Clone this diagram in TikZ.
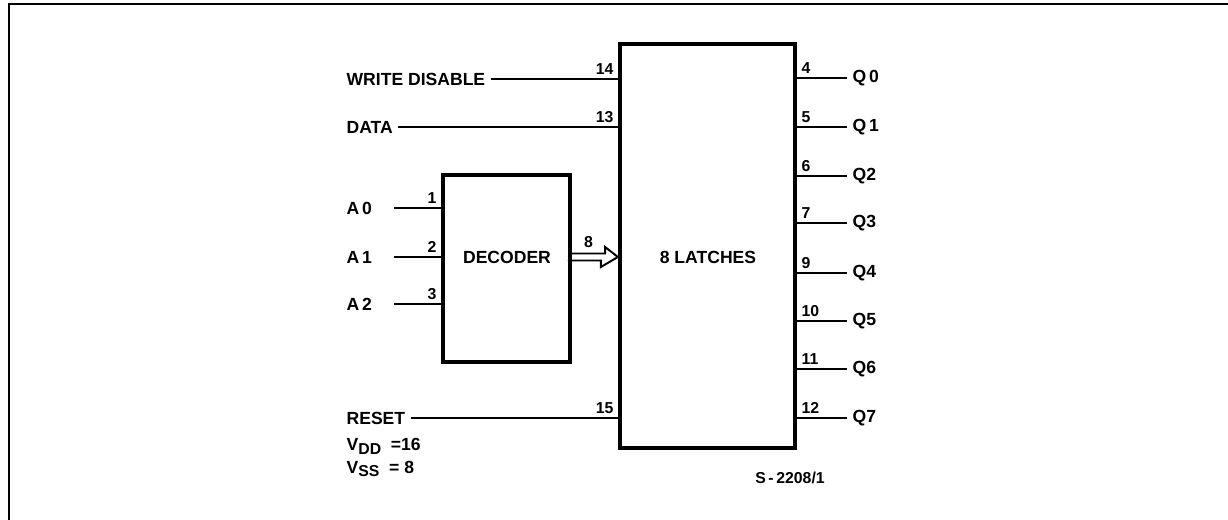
\documentclass[tikz,border=0pt]{standalone}
\usepackage{fontspec}
\setmainfont{Liberation Sans}
\usetikzlibrary{positioning,arrows.meta}

\begin{document}
\begin{tikzpicture}[x=0.02cm, y=-0.02cm,
    blk/.style={rectangle, draw=black, line width=2.4pt, inner sep=0pt},
    sig/.style={font=\bfseries\fontsize{10}{12}\selectfont, inner xsep=3pt, inner ysep=1pt},
    pinno/.style={font=\bfseries\fontsize{9}{10}\selectfont, inner sep=2pt},
    wire/.style={line width=1.1pt}
]
    \useasboundingbox (0,0) rectangle (1228,520);
    \draw[line width=1.2pt] (9,520) -- (9,4) -- (1228,4);

    \node[blk, minimum width=3.5cm, minimum height=8.08cm] (latch) at (707.5,246) {};
    \node[sig] (latchlbl) at (708,257) {8 LATCHES};
    \node[blk, minimum width=2.54cm, minimum height=3.74cm] (dec) at (506.5,268.5) {};
    \node[sig] (declbl) at (507,257) {DECODER};

    % inputs of the latches
    \node[sig, anchor=west] (wd) at (341,79) {WRITE DISABLE};
    \node[sig, anchor=west] (data) at (341,127) {DATA};
    \node[sig, anchor=west] (reset) at (341,418) {RESET};
    \draw[wire] (wd.east) -- (wd -| latch.west) node[pinno, anchor=south east] {14};
    \draw[wire] (data.east) -- (data -| latch.west) node[pinno, anchor=south east] {13};
    \draw[wire] (reset.east) -- (reset -| latch.west) node[pinno, anchor=south east] {15};

    % address inputs
    \coordinate (abus) at (394,0);
    \node[sig, anchor=west] (a0) at (341,208) {A\,0};
    \node[sig, anchor=west] (a1) at (341,257) {A\,1};
    \node[sig, anchor=west] (a2) at (341,304) {A\,2};
    \draw[wire] (a0 -| abus) -- (a0 -| dec.west) node[pinno, anchor=south east] {1};
    \draw[wire] (a1 -| abus) -- (a1 -| dec.west) node[pinno, anchor=south east] {2};
    \draw[wire] (a2 -| abus) -- (a2 -| dec.west) node[pinno, anchor=south east] {3};

    % decoder bus
    \coordinate (bus) at (0,257);
    \draw[wire, line join=miter] (bus -| dec.east) ++(0,-3.5) -- ++(33,0) node[pinno, midway, above=1pt] {8}
        -- ++(0,-6.5) -- (bus -| latch.west) -- ++(-17,10) -- ++(0,-6.5) -- ++(-33,0);

    % outputs
    \foreach \q/\y/\p/\txt in {0/78/4/Q\,0, 1/127/5/Q\,1, 2/176/6/Q2, 3/223/7/Q3,
                               4/273/9/Q4, 5/321/10/Q5, 6/369/11/Q6, 7/418/12/Q7} {
        \node[sig, anchor=west] (q\q) at (847,\y) {\txt};
        \draw[wire] (q\q -| latch.east) node[pinno, anchor=south west] {\p} -- (q\q.west);
    }

    \node[sig, anchor=west] (vdd) at (341,446) {V{\fontsize{9}{10}\selectfont\raisebox{-0.45ex}{DD}} ~=16};
    \node[sig, anchor=west] (vss) at (341,469) {V{\fontsize{9}{10}\selectfont\raisebox{-0.45ex}{SS}} ~= 8};
    \node[pinno] (ref) at (790,478) {S\,-\,2208/1};
\end{tikzpicture}
\end{document}
